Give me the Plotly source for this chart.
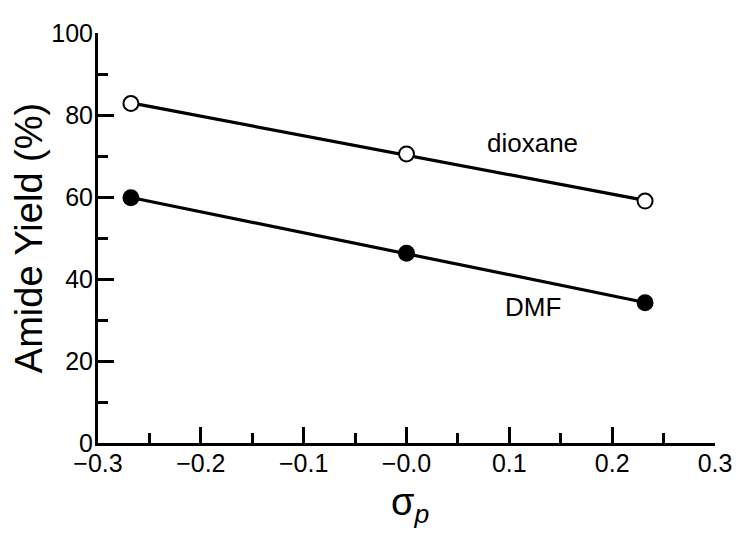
import numpy as np
import plotly.graph_objects as go

sigma_p = [-0.268, 0.0, 0.232]
dioxane_yield = [82.8, 70.5, 59.0]
dmf_yield = [59.8, 46.3, 34.2]

x_ticks = [-0.3, -0.2, -0.1, 0.0, 0.1, 0.2, 0.3]
x_ticktext = ["\u22120.3", "\u22120.2", "\u22120.1", "\u22120.0", "0.1", "0.2", "0.3"]
y_ticks = [0, 20, 40, 60, 80, 100]

FONT = "Liberation Sans, Arial, sans-serif"

fig = go.Figure()

for ys, filled in [(dioxane_yield, False), (dmf_yield, True)]:
    m, b = np.polyfit(sigma_p, ys, 1)
    xl = [min(sigma_p), max(sigma_p)]
    fig.add_trace(go.Scatter(x=xl, y=[m * v + b for v in xl], mode="lines",
                             line=dict(color="black", width=3.2), showlegend=False,
                             hoverinfo="skip"))
    fig.add_trace(go.Scatter(x=sigma_p, y=ys, mode="markers", showlegend=False,
                             marker=dict(size=15, color="black" if filled else "white",
                                         line=dict(color="black", width=2))))

fig.add_annotation(x=0.123, y=73.2, text="dioxane", showarrow=False,
                   font=dict(size=26, color="black", family=FONT))
fig.add_annotation(x=0.123, y=33.2, text="DMF", showarrow=False,
                   font=dict(size=26, color="black", family=FONT))
fig.add_annotation(xref="paper", yref="paper", x=0.506, y=-0.151, yanchor="middle",
                   text="\u03c3<sub><i>p</i></sub>", showarrow=False,
                   font=dict(size=38, color="black", family=FONT))

fig.update_xaxes(range=[-0.3, 0.3], tickvals=x_ticks, ticktext=x_ticktext, automargin=False,
                 showline=True, linewidth=3, linecolor="black", showgrid=False, zeroline=False,
                 ticks="inside", ticklen=16, tickwidth=3, tickcolor="black", ticklabelstandoff=-4,
                 minor=dict(ticks="inside", ticklen=10, tickwidth=3, tickcolor="black", dtick=0.05, showgrid=False),
                 tickfont=dict(size=25, color="black", family=FONT))
fig.update_yaxes(range=[0, 100], tickvals=y_ticks, automargin=False,
                 showline=True, linewidth=3, linecolor="black", showgrid=False, zeroline=False,
                 ticks="inside", ticklen=16, tickwidth=3, tickcolor="black", ticklabelstandoff=-3,
                 minor=dict(ticks="inside", ticklen=10, tickwidth=3, tickcolor="black", dtick=10, showgrid=False),
                 tickfont=dict(size=25, color="black", family=FONT),
                 title=dict(text="Amide Yield (%)", font=dict(size=38, color="black", family=FONT), standoff=4))

fig.update_layout(width=742, height=529, plot_bgcolor="white", paper_bgcolor="white",
                  margin=dict(l=90, r=35, t=25, b=94), showlegend=False)

fig.write_html("out.html")
